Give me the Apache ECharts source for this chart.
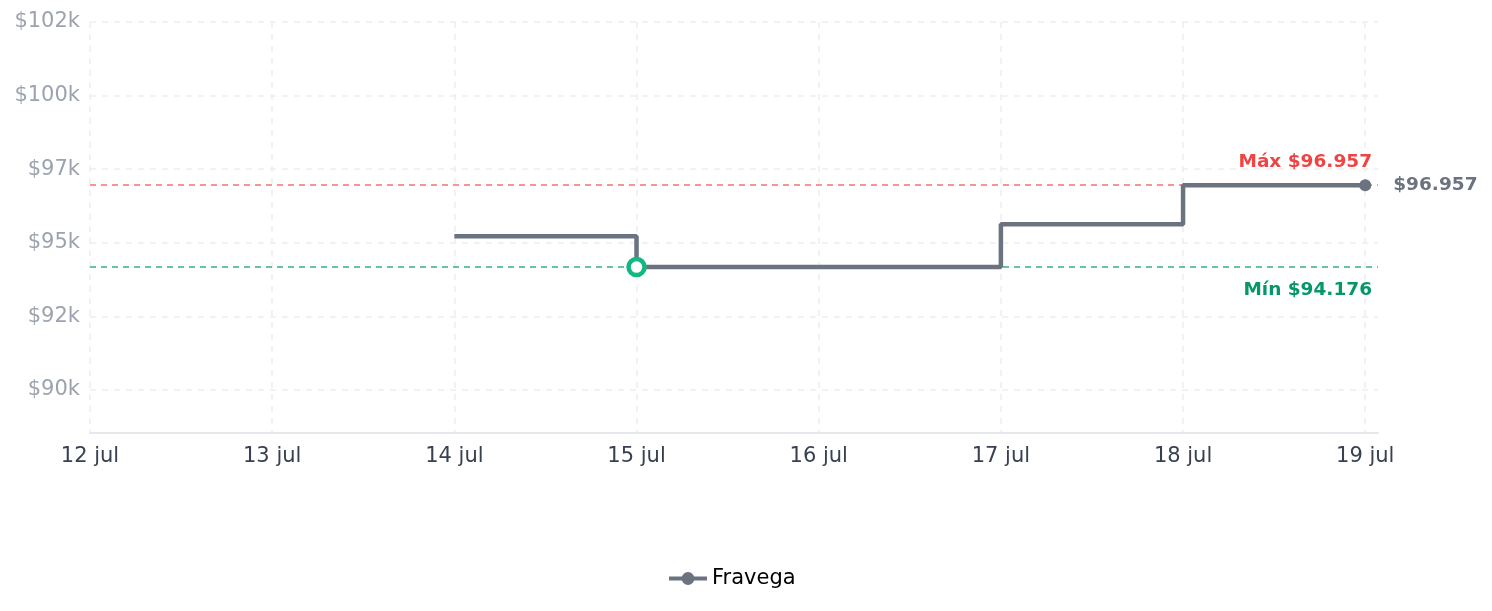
<!DOCTYPE html>
<html>
<head>
<meta charset="utf-8">
<style>
  html, body { margin: 0; padding: 0; background: #fff; }
  #chart { width: 1492px; height: 611px; }
</style>
<script src="https://cdn.jsdelivr.net/npm/echarts@6/dist/echarts.min.js"></script>
</head>
<body>
<div id="chart"></div>
<script>
// datos del gráfico
const days = ['12 jul', '13 jul', '14 jul', '15 jul', '16 jul', '17 jul', '18 jul', '19 jul'];
const prices = [null, null, 95224, 94176, 94176, 95630, 96957, 96957];
const storeName = 'Fravega';

const fmt = (v) => String(v).replace(/\B(?=(\d{3})+(?!\d))/g, '.');

const valid = prices.filter(v => v != null);
const maxPrice = Math.max(...valid);
const minPrice = Math.min(...valid);
const minIndex = prices.indexOf(minPrice);
const lastIndex = prices.length - 1;

const chart = echarts.init(document.getElementById('chart'));

const seriesData = prices.map((v, i) => {
  const item = { value: [i, v == null ? '-' : v] };
  if (i === minIndex) {
    item.symbol = 'circle';
    item.symbolSize = 16;
    item.itemStyle = { color: '#ffffff', borderColor: '#10b981', borderWidth: 4.5 };
  } else if (i === lastIndex) {
    item.symbol = 'circle';
    item.symbolSize = 12;
    item.itemStyle = { color: '#6b7280', borderWidth: 0 };
    item.label = {
      show: true,
      position: 'right',
      distance: 22,
      formatter: '$' + fmt(v),
      color: '#6b7280',
      fontSize: 18.5,
      fontWeight: 'bold',
    };
  } else {
    item.symbol = 'none';
  }
  return item;
});

const option = {
  animation: false,
  textStyle: { fontFamily: 'DejaVu Sans' },
  grid: { left: 90, right: 114, top: 22, bottom: 178, containLabel: false },
  legend: {
    data: [storeName],
    bottom: 17,
    left: 662,
    itemWidth: 38,
    itemHeight: 16,
    itemGap: 8,
    lineStyle: { width: 4 },
    textStyle: { color: '#000', fontSize: 21 },
  },
  xAxis: {
    type: 'value',
    min: 0,
    max: 7.07,
    interval: 1,
    axisLine: { show: true, lineStyle: { color: '#e5e7eb', width: 2 } },
    axisTick: { show: false },
    axisLabel: {
      color: '#374151',
      fontSize: 21,
      margin: 13,
      showMaxLabel: false,
      formatter: (v) => days[Math.round(v)] || '',
    },
    splitLine: {
      show: true,
      showMaxLine: false,
      lineStyle: { color: '#eeeeee', type: [6, 6], width: 1.5 },
    },
  },
  yAxis: {
    type: 'value',
    min: 88540,
    max: 102500,
    minInterval: 2500,
    maxInterval: 2500,
    axisLine: { show: false },
    axisTick: { show: false },
    axisLabel: {
      color: '#9ca3af',
      fontSize: 21,
      margin: 10,
      showMinLabel: false,
      formatter: (v) => '$' + Math.floor(v / 1000) + 'k',
    },
    splitLine: {
      show: true,
      lineStyle: { color: '#eeeeee', type: [6, 6], width: 1.5 },
    },
  },
  series: [
    {
      name: storeName,
      type: 'line',
      step: 'end',
      symbol: 'circle',
      symbolSize: 12,
      color: '#6b7280',
      lineStyle: { color: '#6b7280', width: 4.5 },
      itemStyle: { color: '#6b7280' },
      data: seriesData,
      z: 3,
      markLine: {
        silent: true,
        symbol: 'none',
        z: 1,
        data: [
          {
            yAxis: maxPrice,
            lineStyle: { color: '#f87171', type: [6, 5], width: 1.5 },
            label: {
              position: 'insideEndTop',
              distance: [6, 14],
              formatter: 'Máx $' + fmt(maxPrice),
              color: '#ef4444',
              fontSize: 18.5,
              fontWeight: 'bold',
            },
          },
          {
            yAxis: minPrice,
            lineStyle: { color: '#34b087', type: [6, 5], width: 1.5 },
            label: {
              position: 'insideEndBottom',
              distance: [6, 14],
              formatter: 'Mín $' + fmt(minPrice),
              color: '#059669',
              fontSize: 18.5,
              fontWeight: 'bold',
            },
          },
        ],
      },
    },
  ],
};

chart.setOption(option);
</script>
</body>
</html>
